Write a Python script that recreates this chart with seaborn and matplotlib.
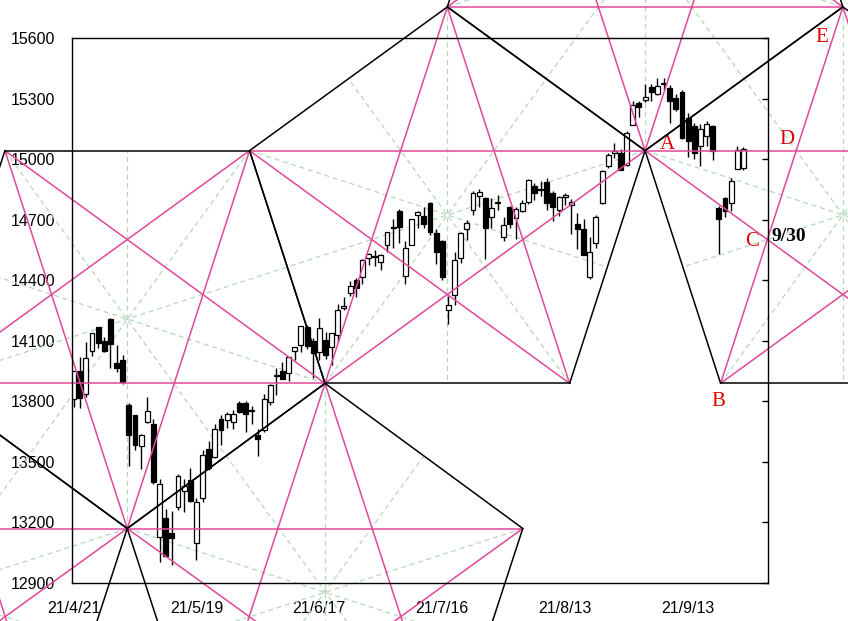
import matplotlib
matplotlib.use("Agg")
import matplotlib.pyplot as plt
import seaborn as sns
import numpy as np
import pandas as pd

# daily bars 21/4/21 .. 21/9/24 (bar index = position in list)
dates = ["21/4/21", "21/4/22", "21/4/23", "21/4/26", "21/4/27", "21/4/28", "21/4/29", "21/4/30",
         "21/5/3", "21/5/4", "21/5/5", "21/5/6", "21/5/7", "21/5/10", "21/5/11", "21/5/12", "21/5/13",
         "21/5/14", "21/5/17", "21/5/18", "21/5/19", "21/5/20", "21/5/21", "21/5/24", "21/5/25",
         "21/5/26", "21/5/27", "21/5/28",
         "21/6/1", "21/6/2", "21/6/3", "21/6/4", "21/6/7", "21/6/8", "21/6/9", "21/6/10", "21/6/11",
         "21/6/14", "21/6/15", "21/6/16", "21/6/17", "21/6/18", "21/6/21", "21/6/22", "21/6/23",
         "21/6/24", "21/6/25", "21/6/28", "21/6/29", "21/6/30",
         "21/7/1", "21/7/2", "21/7/6", "21/7/7", "21/7/8", "21/7/9", "21/7/12", "21/7/13", "21/7/14",
         "21/7/15", "21/7/16", "21/7/19", "21/7/20", "21/7/21", "21/7/22", "21/7/23", "21/7/26",
         "21/7/27", "21/7/28", "21/7/29", "21/7/30",
         "21/8/2", "21/8/3", "21/8/4", "21/8/5", "21/8/6", "21/8/9", "21/8/10", "21/8/11", "21/8/12",
         "21/8/13", "21/8/16", "21/8/17", "21/8/18", "21/8/19", "21/8/20", "21/8/23", "21/8/24",
         "21/8/25", "21/8/26", "21/8/27", "21/8/30", "21/8/31",
         "21/9/1", "21/9/2", "21/9/3", "21/9/7", "21/9/8", "21/9/9", "21/9/10", "21/9/13", "21/9/14",
         "21/9/15", "21/9/16", "21/9/17", "21/9/20", "21/9/21", "21/9/22", "21/9/23", "21/9/24"]

opens = [13812, 13951, 13836, 14051, 14166, 14099, 14210, 13990,
         14005, 13780, 13730, 13580, 13696, 13690, 13129, 13220, 13150, 13276, 13358, 13409, 13096,
         13320, 13566, 13526, 13713, 13708, 13697, 13793,
         13790, 13754, 13634, 13657, 13799, 13931, 13950, 13942, 14049, 14081, 14167, 14097, 14046,
         14104, 14068, 14127, 14260, 14337, 14400, 14416, 14510, 14520,
         14490, 14575, 14662, 14745, 14420, 14575, 14721, 14718, 14782, 14634, 14594, 14252, 14327,
         14510, 14654, 14748, 14817, 14807, 14713, 14790, 14614,
         14763, 14708, 14743, 14787, 14867, 14852, 14887, 14832, 14748, 14814, 14773, 14680, 14656,
         14415, 14582, 14782, 14965, 15031, 15029, 14971, 15167, 15279,
         15293, 15359, 15323, 15376, 15353, 15304, 15330, 15204, 15165, 15066, 15115, 15165, 14760,
         14805, 14785, 14952, 14955]
highs = [13951, 14019, 14094, 14138, 14169, 14118, 14211, 14077,
         14032, 13792, 13728, 13636, 13820, 13714, 13413, 13268, 13256, 13441, 13415, 13471, 13319,
         13557, 13602, 13687, 13733, 13749, 13759, 13800,
         13800, 13776, 13665, 13835, 13884, 13966, 13994, 14021, 14071, 14175, 14178, 14115, 14212,
         14143, 14141, 14280, 14318, 14396, 14410, 14505, 14535, 14550,
         14530, 14640, 14702, 14752, 14595, 14705, 14745, 14761, 14790, 14654, 14598, 14321, 14541,
         14640, 14697, 14841, 14850, 14812, 14808, 14821, 14715,
         14770, 14762, 14797, 14900, 14880, 14890, 14907, 14840, 14817, 14830, 14800, 14733, 14701,
         14614, 14725, 14944, 15029, 15080, 15052, 15138, 15288, 15288,
         15374, 15373, 15403, 15403, 15365, 15323, 15340, 15230, 15180, 15175, 15190, 15170, 14770,
         14813, 14907, 15065, 15060]
lows = [13770, 13765, 13821, 14024, 14066, 14042, 13966, 13945,
        13886, 13482, 13557, 13467, 13695, 13389, 13002, 13031, 12990, 13262, 13251, 13301, 13016,
        13302, 13462, 13519, 13582, 13669, 13664, 13740,
        13649, 13689, 13528, 13646, 13781, 13829, 13909, 13900, 14003, 14045, 14061, 13918, 14006,
        14011, 13980, 14096, 14251, 14321, 14315, 14381, 14473, 14472,
        14451, 14541, 14558, 14582, 14383, 14583, 14657, 14659, 14625, 14479, 14400, 14181, 14278,
        14485, 14599, 14722, 14762, 14507, 14661, 14749, 14596,
        14661, 14605, 14740, 14780, 14795, 14815, 14749, 14695, 14718, 14772, 14631, 14555, 14525,
        14408, 14560, 14779, 14956, 15005, 14945, 14965, 15167, 15207,
        15281, 15288, 15316, 15340, 15178, 15240, 15100, 15009, 15001, 14966, 15067, 14997, 14530,
        14712, 14745, 14950, 14945]
closes = [13950, 13818, 14017, 14139, 14090, 14051, 14083, 13963,
          13895, 13634, 13582, 13633, 13752, 13402, 13389, 13032, 13125, 13430, 13379, 13304, 13300,
          13536, 13471, 13661, 13657, 13738, 13736, 13749,
          13736, 13756, 13615, 13814, 13882, 13925, 13912, 14020, 14069, 14174, 14073, 14040, 14161,
          14030, 14141, 14253, 14272, 14370, 14360, 14500, 14528, 14515,
          14525, 14639, 14659, 14664, 14560, 14703, 14738, 14679, 14639, 14540, 14416, 14277, 14500,
          14634, 14683, 14832, 14837, 14658, 14758, 14782, 14674,
          14679, 14753, 14782, 14897, 14832, 14847, 14783, 14763, 14812, 14822, 14787, 14654, 14526,
          14542, 14715, 14943, 15020, 15042, 14946, 15130, 15266, 15259,
          15309, 15331, 15364, 15374, 15287, 15248, 15105, 15090, 15030, 15150, 15175, 15040, 14705,
          14745, 14893, 15045, 15048]

x_tick_pos = [0, 20, 40, 60, 80, 100]
x_tick_labels = ["21/4/21", "21/5/19", "21/6/17", "21/7/16", "21/8/13", "21/9/13"]
y_ticks = [12900, 13200, 13500, 13800, 14100, 14400, 14700, 15000, 15300, 15600]

# pentagon vertices (bar index, price); several lie outside the visible window
pts = {
    "Q": (-11.16, 15042), "P1": (8.74, 13170), "P2": (28.64, 15042), "P3": (40.92, 13889),
    "P4": (60.82, 15754), "P8": (73.10, 13170), "P5": (80.72, 13889), "A": (93.00, 15042),
    "B": (105.29, 13889), "E": (125.19, 15754), "L3": (-23.45, 13889),
    "Vr": (60.82, 12025), "Vl": (21.02, 12025), "R1": (157.37, 15042), "R2": (145.09, 13889),
    "T1": (73.10, 16906), "T2": (112.90, 16906),
    "W1": (-55.63, 13170), "W2": (-3.55, 12025), "W3": (-43.35, 12025),
}
# each pentagon listed in order round its rim: rim edges black, diagonals pink
pentagons = [
    ("P4", "A", "P5", "P3", "P2"),
    ("P1", "P3", "P2", "Q", "L3"),
    ("P3", "P8", "Vr", "Vl", "P1"),
    ("E", "R1", "R2", "B", "A"),
    ("A", "E", "T2", "T1", "P4"),
    ("L3", "P1", "W2", "W3", "W1"),
]

df = pd.DataFrame({"date": dates, "open": opens, "high": highs, "low": lows, "close": closes})
df["idx"] = np.arange(len(df))
df["up"] = df["close"] >= df["open"]

sns.set_theme(style="white")
plt.rcParams["font.family"] = ["Liberation Sans", "DejaVu Sans"]

fig = plt.figure(figsize=(8.48, 6.21), dpi=100)
ax = fig.add_axes([72 / 848, 1 - 583 / 621, 696 / 848, 545 / 621])

pink = "#e0489a"
green = "#b3d8bb"


def seg(p, q, **kw):
    ax.plot([p[0], q[0]], [p[1], q[1]], clip_on=False, **kw)


for pent in pentagons:
    v = [pts[n] for n in pent]
    for i in range(5):
        # symmetry axis: vertex -> midpoint of the opposite rim edge (dashed)
        a, b = v[(i + 2) % 5], v[(i + 3) % 5]
        seg(v[i], ((a[0] + b[0]) / 2, (a[1] + b[1]) / 2),
            color=green, lw=0.9, ls=(0, (4, 3)), zorder=1)

# candles
ax.vlines(df["idx"], df["low"], df["high"], color="black", lw=1, zorder=2)
body_lo = df[["open", "close"]].min(axis=1)
body_h = (df["close"] - df["open"]).abs().clip(lower=4)
ax.bar(df["idx"], body_h, bottom=body_lo, width=0.8,
       color=np.where(df["up"], "white", "black"), edgecolor="black", linewidth=0.9, zorder=3)

for pent in pentagons:
    v = [pts[n] for n in pent]
    for i in range(5):
        seg(v[i], v[(i + 2) % 5], color=pink, lw=1.1, zorder=4)
    for i in range(5):
        seg(v[i], v[(i + 1) % 5], color="black", lw=1.1, zorder=4)

ax.set_xlim(-0.25, 113)
ax.set_ylim(12900, 15600)
ax.set_xticks(x_tick_pos)
ax.set_xticklabels(x_tick_labels)
ax.set_yticks(y_ticks)
ax.tick_params(axis="both", direction="in", length=4, width=1, labelsize=11.5, colors="black")
ax.tick_params(axis="y", pad=12, right=True, labelright=False)
ax.tick_params(axis="x", pad=13)
for s in ax.spines.values():
    s.set_color("black")
    s.set_linewidth(1)
    s.set_zorder(5)

red_font = dict(color="#e00000", fontsize=15, family=["Liberation Serif", "DejaVu Serif"])
ax.text(96.7, 15070, "A", ha="center", va="center", clip_on=False, **red_font)
ax.text(104.9, 13797, "B", ha="center", va="center", clip_on=False, **red_font)
ax.text(110.4, 14594, "C", ha="center", va="center", clip_on=False, **red_font)
ax.text(116.1, 15095, "D", ha="center", va="center", clip_on=False, **red_font)
ax.text(121.8, 15600, "E", ha="center", va="center", clip_on=False, **red_font)
ax.text(113.5, 14618, "9/30", ha="left", va="center", clip_on=False, color="black",
        fontsize=14, fontweight="bold", family=["Liberation Serif", "DejaVu Serif"])

fig.savefig("out.png", dpi=100)
